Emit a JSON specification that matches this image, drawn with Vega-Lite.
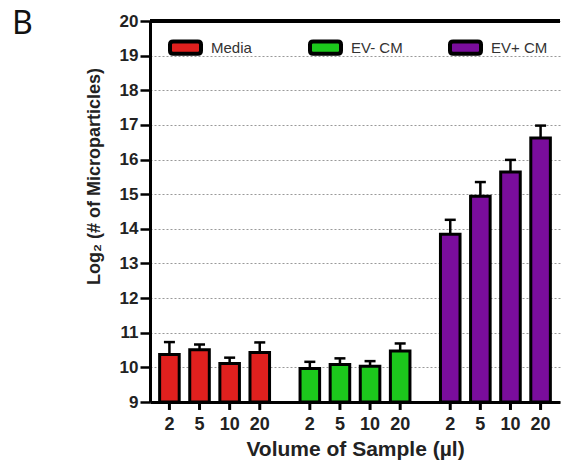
{
  "$schema": "https://vega.github.io/schema/vega-lite/v6.json",
  "width": 410,
  "height": 381,
  "autosize": {"type": "none"},
  "padding": {"left": 150, "top": 21, "right": 3, "bottom": 68},
  "background": "white",
  "title": {"text": "B", "anchor": "start", "frame": "group", "dx": -138, "dy": 33, "fontSize": 32, "fontWeight": "normal", "font": "Noto Sans", "color": "#111"},
  "config": {
    "view": {"stroke": null},
    "font": "Liberation Sans",
    "axisY": {
      "labelOverlap": false, "labelFlush": false, "labelBound": false,
      "labelFontSize": 17, "labelFontWeight": "bold", "labelColor": "#222",
      "labelPadding": 2,
      "tickSize": 10, "tickWidth": 2.5, "tickColor": "black",
      "domainColor": "black", "domainWidth": 3,
      "grid": true, "gridDash": [2, 2], "gridColor": "#999", "gridWidth": 1,
      "titleFontSize": 18, "titleFontWeight": "bold", "titleColor": "#222",
      "titlePadding": 16, "titleY": 155
    }
  },
  "data": {"values": [
    {"group": "Media", "vol": "2", "mean": 10.37, "upper": 10.73},
    {"group": "Media", "vol": "5", "mean": 10.51, "upper": 10.66},
    {"group": "Media", "vol": "10", "mean": 10.11, "upper": 10.28},
    {"group": "Media", "vol": "20", "mean": 10.43, "upper": 10.72},
    {"group": "EV- CM", "vol": "2", "mean": 9.97, "upper": 10.16},
    {"group": "EV- CM", "vol": "5", "mean": 10.08, "upper": 10.26},
    {"group": "EV- CM", "vol": "10", "mean": 10.03, "upper": 10.18},
    {"group": "EV- CM", "vol": "20", "mean": 10.47, "upper": 10.69},
    {"group": "EV+ CM", "vol": "2", "mean": 13.84, "upper": 14.26},
    {"group": "EV+ CM", "vol": "5", "mean": 14.94, "upper": 15.35},
    {"group": "EV+ CM", "vol": "10", "mean": 15.64, "upper": 15.99},
    {"group": "EV+ CM", "vol": "20", "mean": 16.62, "upper": 16.98}
  ]},
  "encoding": {
    "x": {
      "field": "group", "type": "nominal",
      "sort": ["Media", "EV- CM", "EV+ CM"],
      "scale": {"paddingInner": 0.14, "paddingOuter": 0.03},
      "axis": {
        "title": "Volume of Sample (µl)",
        "labels": false, "ticks": false,
        "domainColor": "black", "domainWidth": 3,
        "titleFontSize": 21, "titleFontWeight": "bold", "titleColor": "#222",
        "titlePadding": 36
      }
    },
    "xOffset": {
      "field": "vol", "type": "nominal",
      "sort": ["2", "5", "10", "20"],
      "scale": {"paddingInner": 0.35, "paddingOuter": 0.18}
    }
  },
  "layer": [
    {
      "mark": {"type": "bar", "stroke": "black", "strokeWidth": 3},
      "encoding": {
        "y": {
          "field": "mean", "type": "quantitative",
          "scale": {"domain": [9, 20], "nice": false, "zero": false},
          "axis": {"title": "Log₂ (# of Microparticles)", "values": [9, 10, 11, 12, 13, 14, 15, 16, 17, 18, 19, 20]}
        },
        "y2": {"datum": 9},
        "color": {
          "field": "group", "type": "nominal",
          "sort": ["Media", "EV- CM", "EV+ CM"],
          "scale": {"domain": ["Media", "EV- CM", "EV+ CM"], "range": ["#e0201e", "#1cc81c", "#7a0d9c"]},
          "legend": {
            "title": null,
            "orient": "none", "legendX": 18, "legendY": 9,
            "direction": "horizontal", "gridAlign": "all", "columnPadding": 34,
            "symbolType": "M-0.8,-0.4H0.8Q1,-0.4 1,-0.2V0.2Q1,0.4 0.8,0.4H-0.8Q-1,0.4 -1,0.2V-0.2Q-1,-0.4 -0.8,-0.4Z",
            "symbolSize": 961, "symbolStrokeColor": "black", "symbolStrokeWidth": 4,
            "symbolOpacity": 1,
            "labelFontSize": 15, "labelColor": "#333", "labelOffset": 8
          }
        }
      }
    },
    {
      "mark": {"type": "rule", "stroke": "black", "strokeWidth": 3},
      "encoding": {
        "y": {"datum": 9, "axis": {"title": "Log₂ (# of Microparticles)", "values": [9, 10, 11, 12, 13, 14, 15, 16, 17, 18, 19, 20]}},
        "y2": {"datum": 8.77}
      }
    },
    {
      "mark": {"type": "rule", "stroke": "black", "strokeWidth": 2.5},
      "encoding": {
        "y": {"field": "mean", "type": "quantitative", "axis": {"title": "Log₂ (# of Microparticles)", "values": [9, 10, 11, 12, 13, 14, 15, 16, 17, 18, 19, 20]}},
        "y2": {"field": "upper"}
      }
    },
    {
      "mark": {"type": "tick", "color": "black", "thickness": 2.5, "size": 11, "opacity": 1},
      "encoding": {
        "y": {"field": "upper", "type": "quantitative", "axis": {"title": "Log₂ (# of Microparticles)", "values": [9, 10, 11, 12, 13, 14, 15, 16, 17, 18, 19, 20]}}
      }
    },
    {
      "mark": {"type": "rule", "stroke": "black", "strokeWidth": 3},
      "encoding": {
        "y": {"datum": 20, "axis": {"title": "Log₂ (# of Microparticles)", "values": [9, 10, 11, 12, 13, 14, 15, 16, 17, 18, 19, 20]}},
        "x": null, "xOffset": null
      }
    },
    {
      "mark": {"type": "text", "fontSize": 18, "fontWeight": "bold", "color": "#222", "baseline": "middle", "dy": 23},
      "encoding": {
        "y": {"datum": 9, "axis": {"title": "Log₂ (# of Microparticles)", "values": [9, 10, 11, 12, 13, 14, 15, 16, 17, 18, 19, 20]}},
        "text": {"field": "vol"}
      }
    }
  ]
}
